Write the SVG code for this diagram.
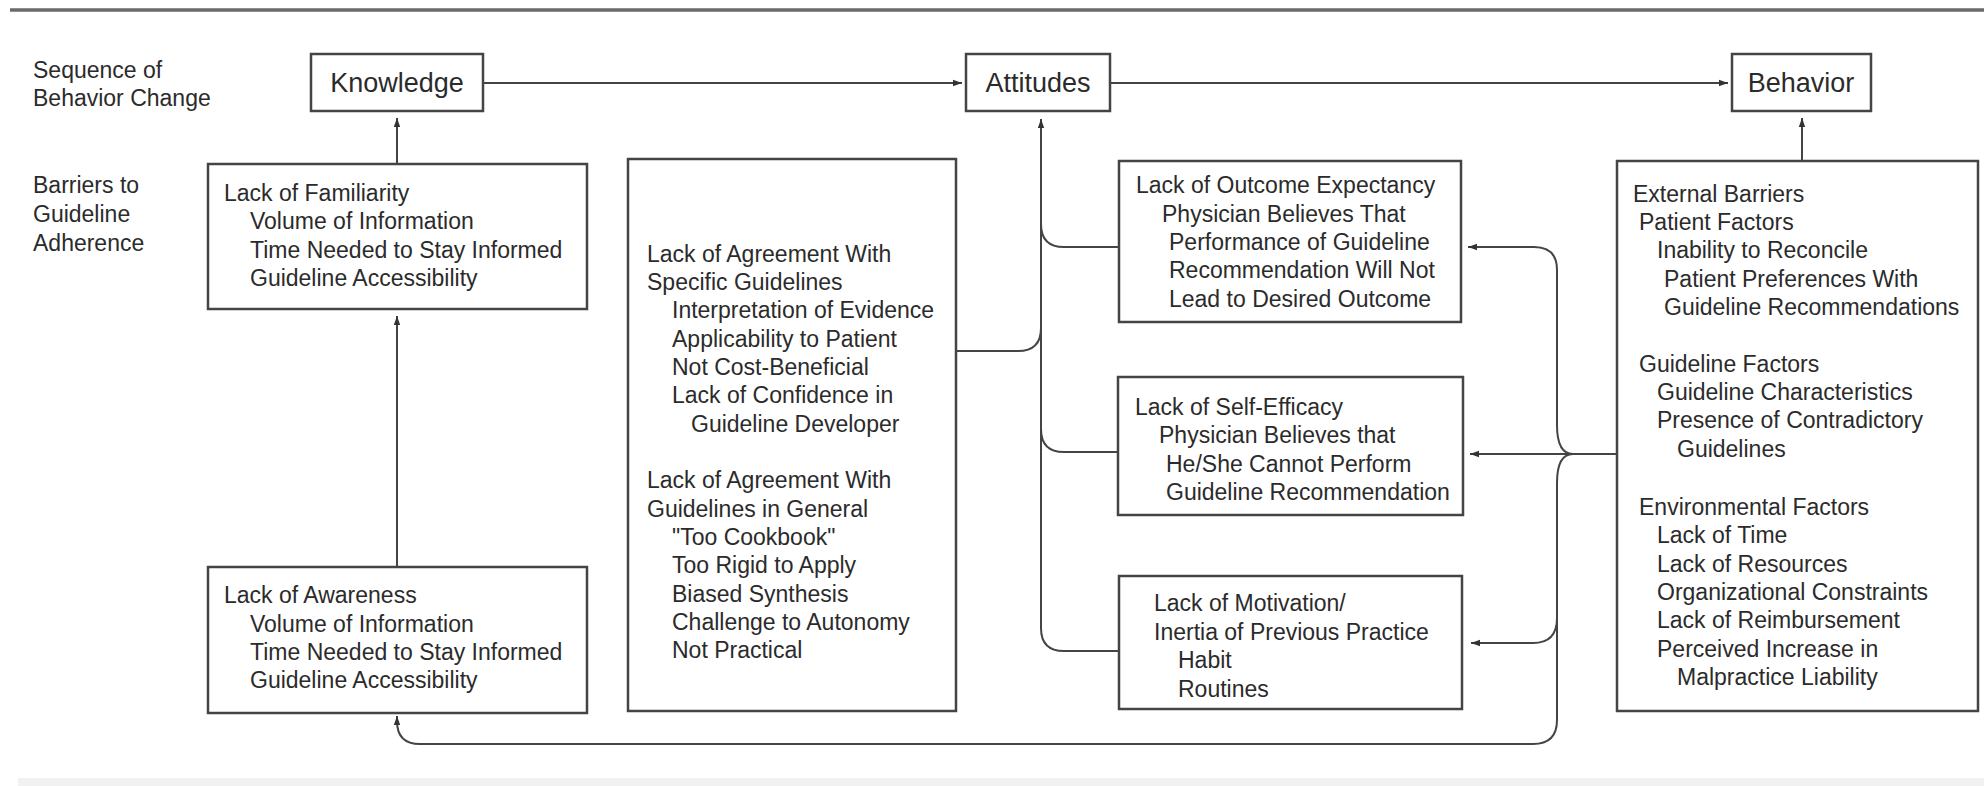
<svg xmlns="http://www.w3.org/2000/svg" width="1984" height="786" viewBox="0 0 1984 786">
<style>
.box{fill:#fff;stroke:#444;stroke-width:2.5}
.t{font-family:"Liberation Sans",Arial,Helvetica,sans-serif;font-size:23px;fill:#2b2b2b}
.h{font-size:27px}
.c{fill:none;stroke:#444;stroke-width:2}
.a{marker-end:url(#ah)}
</style>
<defs>
<marker id="ah" markerWidth="10" markerHeight="8" refX="9" refY="4" orient="auto" markerUnits="userSpaceOnUse">
<path d="M0,0.8 L9,4 L0,7.2 z" fill="#333"/>
</marker>
</defs>
<rect width="1984" height="786" fill="#fff"/>
<line x1="10" y1="10" x2="1984" y2="10" stroke="#6a6a6a" stroke-width="3.5"/>
<rect x="18" y="778" width="1966" height="8" fill="#f1f1f1"/>

<g id="label-sequence">
<text class="t"><tspan x="33" y="78">Sequence of</tspan><tspan x="33" y="106">Behavior Change</tspan></text>
</g>
<g id="label-barriers">
<text class="t"><tspan x="33" y="193">Barriers to</tspan><tspan x="33" y="222">Guideline</tspan><tspan x="33" y="251">Adherence</tspan></text>
</g>

<g id="knowledge">
<rect class="box" x="311" y="54" width="172" height="57"/>
<text class="t h" x="397" y="92" text-anchor="middle">Knowledge</text>
</g>
<g id="attitudes">
<rect class="box" x="966" y="54" width="144" height="57"/>
<text class="t h" x="1038" y="92" text-anchor="middle">Attitudes</text>
</g>
<g id="behavior">
<rect class="box" x="1732" y="54" width="139" height="57"/>
<text class="t h" x="1801" y="92" text-anchor="middle">Behavior</text>
</g>

<g id="lack-familiarity">
<rect class="box" x="208" y="164" width="379" height="145"/>
<text class="t"><tspan x="224" y="201">Lack of Familiarity</tspan><tspan x="250" y="229">Volume of Information</tspan><tspan x="250" y="258">Time Needed to Stay Informed</tspan><tspan x="250" y="286">Guideline Accessibility</tspan></text>
</g>
<g id="lack-awareness">
<rect class="box" x="208" y="567" width="379" height="146"/>
<text class="t"><tspan x="224" y="603">Lack of Awareness</tspan><tspan x="250" y="632">Volume of Information</tspan><tspan x="250" y="660">Time Needed to Stay Informed</tspan><tspan x="250" y="688">Guideline Accessibility</tspan></text>
</g>
<g id="lack-agreement">
<rect class="box" x="628" y="159" width="328" height="552"/>
<text class="t"><tspan x="647" y="262">Lack of Agreement With</tspan><tspan x="647" y="290">Specific Guidelines</tspan><tspan x="672" y="318">Interpretation of Evidence</tspan><tspan x="672" y="347">Applicability to Patient</tspan><tspan x="672" y="375">Not Cost-Beneficial</tspan><tspan x="672" y="403">Lack of Confidence in</tspan><tspan x="691" y="432">Guideline Developer</tspan><tspan x="647" y="488">Lack of Agreement With</tspan><tspan x="647" y="517">Guidelines in General</tspan><tspan x="672" y="545">"Too Cookbook"</tspan><tspan x="672" y="573">Too Rigid to Apply</tspan><tspan x="672" y="602">Biased Synthesis</tspan><tspan x="672" y="630">Challenge to Autonomy</tspan><tspan x="672" y="658">Not Practical</tspan></text>
</g>
<g id="lack-outcome-expectancy">
<rect class="box" x="1119" y="161" width="342" height="161"/>
<text class="t"><tspan x="1136" y="193">Lack of Outcome Expectancy</tspan><tspan x="1162" y="222">Physician Believes That</tspan><tspan x="1169" y="250">Performance of Guideline</tspan><tspan x="1169" y="278">Recommendation Will Not</tspan><tspan x="1169" y="307">Lead to Desired Outcome</tspan></text>
</g>
<g id="lack-self-efficacy">
<rect class="box" x="1118" y="377" width="345" height="138"/>
<text class="t"><tspan x="1135" y="415">Lack of Self-Efficacy</tspan><tspan x="1159" y="443">Physician Believes that</tspan><tspan x="1166" y="472">He/She Cannot Perform</tspan><tspan x="1166" y="500">Guideline Recommendation</tspan></text>
</g>
<g id="lack-motivation">
<rect class="box" x="1119" y="576" width="343" height="133"/>
<text class="t"><tspan x="1154" y="611">Lack of Motivation/</tspan><tspan x="1154" y="640">Inertia of Previous Practice</tspan><tspan x="1178" y="668">Habit</tspan><tspan x="1178" y="697">Routines</tspan></text>
</g>
<g id="external-barriers">
<rect class="box" x="1617" y="161" width="361" height="550"/>
<text class="t"><tspan x="1633" y="202">External Barriers</tspan><tspan x="1639" y="230">Patient Factors</tspan><tspan x="1657" y="258">Inability to Reconcile</tspan><tspan x="1664" y="287">Patient Preferences With</tspan><tspan x="1664" y="315">Guideline Recommendations</tspan><tspan x="1639" y="372">Guideline Factors</tspan><tspan x="1657" y="400">Guideline Characteristics</tspan><tspan x="1657" y="428">Presence of Contradictory</tspan><tspan x="1677" y="457">Guidelines</tspan><tspan x="1639" y="515">Environmental Factors</tspan><tspan x="1657" y="543">Lack of Time</tspan><tspan x="1657" y="572">Lack of Resources</tspan><tspan x="1657" y="600">Organizational Constraints</tspan><tspan x="1657" y="628">Lack of Reimbursement</tspan><tspan x="1657" y="657">Perceived Increase in</tspan><tspan x="1677" y="685">Malpractice Liability</tspan></text>
</g>

<g id="connectors">
<path class="c a" d="M483,83 H962"/>
<path class="c a" d="M1110,83 H1728"/>
<path class="c a" d="M397,164 V118"/>
<path class="c a" d="M397,567 V316"/>
<path class="c a" d="M1802,161 V118"/>
<path class="c a" d="M1119,651 H1064 Q1041,651 1041,628 V119"/>
<path class="c" d="M1119,247 H1064 Q1041,247 1041,224"/>
<path class="c" d="M956,351 H1018 Q1041,351 1041,328"/>
<path class="c" d="M1118,452 H1064 Q1041,452 1041,429"/>
<path class="c a" d="M1617,454 H1470"/>
<path class="c a" d="M1573,454 C1563,454 1557,445 1557,425 V270 Q1557,247 1534,247 H1468"/>
<path class="c a" d="M1573,454 C1563,454 1557,463 1557,483 V720 Q1557,744 1533,744 H420 Q397,744 397,721 V716"/>
<path class="c a" d="M1557,618 Q1557,643 1533,643 H1471"/>
</g>
</svg>
